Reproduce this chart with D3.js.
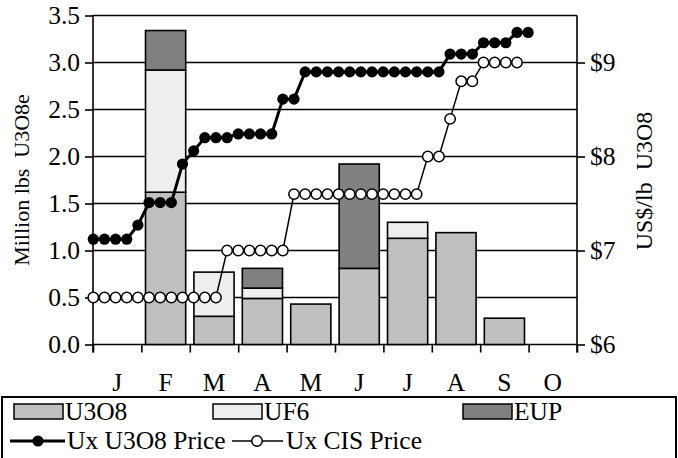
<!DOCTYPE html>
<html><head><meta charset="utf-8">
<script src="https://cdn.jsdelivr.net/npm/d3@7"></script>
<style>
body{margin:0;background:#fff}
svg{display:block}
text{font-family:"Liberation Serif","Times New Roman",serif;fill:#000}
</style>
</head><body>
<svg id="c" width="678" height="458"></svg>
<script>
// ---------- data ----------
const months = ["J","F","M","A","M","J","J","A","S","O"];
const u3o8Vol = [0, 1.62, 0.30, 0.49, 0.43, 0.81, 1.13, 1.19, 0.28, 0];
const uf6Vol  = [0, 1.30, 0.47, 0.11, 0,    0,    0.17, 0,    0,    0];
const eupVol  = [0, 0.42, 0,    0.21, 0,    1.11, 0,    0,    0,    0];
const leftTicks = [0, 0.5, 1.0, 1.5, 2.0, 2.5, 3.0, 3.5];
const rightTicks = [6, 7, 8, 9];
// weekly prices (US$/lb)
const u3o8Price = [7.12,7.12,7.12,7.12, 7.27, 7.51,7.51,7.51, 7.92, 8.06,
  8.20,8.20,8.20, 8.24,8.24,8.24,8.24, 8.61,8.61,
  8.90,8.90,8.90,8.90,8.90,8.90,8.90,8.90,8.90,8.90,8.90,8.90,8.90,
  9.09,9.09,9.09, 9.21,9.21,9.21, 9.32,9.32];
const cisPrice = [6.50,6.50,6.50,6.50,6.50,6.50,6.50,6.50,6.50,6.50,6.50,6.50,
  7.00,7.00,7.00,7.00,7.00,7.00,
  7.60,7.60,7.60,7.60,7.60,7.60,7.60,7.60,7.60,7.60,7.60,7.60,
  8.00,8.00, 8.40, 8.80,8.80, 9.00,9.00,9.00,9.00];

// ---------- layout ----------
const L = 93, R = 577, T = 15.5, B = 344.5;
const FS = 25.5, FL = 25.5, FT = 22;
const svg = d3.select("#c");

const y  = d3.scaleLinear().domain([0, 3.5]).range([B, T]);
const yR = d3.scaleLinear().domain([6, 9.5]).range([B, T]);
const xb = d3.scaleBand().domain(d3.range(months.length)).range([L, R])
  .paddingInner(0.17).paddingOuter(0.085);
const xEdge = d3.scaleLinear().domain([0, months.length]).range([L, R]);
const xw = d3.scaleLinear().domain([0, 43.4]).range([L + 0.3, R + 0.2]);

// gridlines
svg.append("g").selectAll("line").data(leftTicks).join("line")
  .attr("x1", L).attr("x2", R)
  .attr("y1", d => y(d)).attr("y2", d => y(d))
  .attr("stroke", "#000").attr("stroke-width", 1.6);

// stacked bars
const table = months.map((m, i) => ({i, U3O8: u3o8Vol[i], UF6: uf6Vol[i], EUP: eupVol[i]}));
const keys = ["U3O8", "UF6", "EUP"];
const colors = {U3O8: "#c0c0c0", UF6: "#eeeeee", EUP: "#808080"};
const stacked = d3.stack().keys(keys)(table);
svg.append("g").selectAll("g").data(stacked).join("g")
  .attr("fill", d => colors[d.key])
  .selectAll("rect").data(d => d.filter(s => s[1] - s[0] > 0)).join("rect")
  .attr("x", d => xb(d.data.i))
  .attr("width", xb.bandwidth())
  .attr("y", d => y(d[1]))
  .attr("height", d => y(d[0]) - y(d[1]))
  .attr("stroke", "#000").attr("stroke-width", 1.6);

// axes
const fmt = d3.format(".1f");
const ax = svg.append("g").attr("transform", `translate(${L},0)`)
  .call(d3.axisLeft(y).tickValues(leftTicks).tickSize(8).tickPadding(5).tickFormat(fmt));
const axR = svg.append("g").attr("transform", `translate(${R},0)`)
  .call(d3.axisRight(yR).tickValues(rightTicks).tickSize(8).tickPadding(5).tickFormat(d => "$" + d));
const axB = svg.append("g").attr("transform", `translate(0,${B})`)
  .call(d3.axisBottom(xEdge).tickValues(d3.range(months.length + 1)).tickSize(8).tickFormat(""));
[ax, axR, axB].forEach(g => {
  g.select(".domain").remove();
  g.selectAll("line").attr("stroke", "#000").attr("stroke-width", 1.6);
  g.selectAll("text").style("font-size", FS + "px").attr("fill", "#000");
});
// axis lines / frame
svg.append("line").attr("x1", L).attr("x2", L).attr("y1", T).attr("y2", B + 8).attr("stroke", "#000").attr("stroke-width", 1.6);
svg.append("line").attr("x1", R).attr("x2", R).attr("y1", T).attr("y2", B + 8).attr("stroke", "#000").attr("stroke-width", 1.6);

// month labels
svg.append("g").selectAll("text").data(months).join("text")
  .attr("x", (d, i) => xb(i) + xb.bandwidth() / 2)
  .attr("y", 391)
  .attr("text-anchor", "middle")
  .style("font-size", FS + "px")
  .text(d => d);

// price lines
const line = d3.line().x((d, i) => xw(i)).y(d => yR(d));
svg.append("path").datum(cisPrice).attr("d", line)
  .attr("fill", "none").attr("stroke", "#000").attr("stroke-width", 1.5);
svg.append("g").selectAll("circle").data(cisPrice).join("circle")
  .attr("cx", (d, i) => xw(i)).attr("cy", d => yR(d)).attr("r", 5.2)
  .attr("fill", "#fff").attr("stroke", "#000").attr("stroke-width", 1.5);
svg.append("path").datum(u3o8Price).attr("d", line)
  .attr("fill", "none").attr("stroke", "#000").attr("stroke-width", 3);
svg.append("g").selectAll("circle").data(u3o8Price).join("circle")
  .attr("cx", (d, i) => xw(i)).attr("cy", d => yR(d)).attr("r", 5.6)
  .attr("fill", "#000");

// axis titles
svg.append("text")
  .attr("transform", `translate(29,${(T + B) / 2}) rotate(-90)`)
  .attr("text-anchor", "middle").style("font-size", FT + "px")
  .attr("xml:space", "preserve")
  .text("Million lbs  U3O8e");
svg.append("text")
  .attr("transform", `translate(652,181) rotate(-90)`)
  .attr("text-anchor", "middle").style("font-size", "24px")
  .attr("xml:space", "preserve")
  .text("US$/lb  U3O8");

// legend
const lg = svg.append("g");
lg.append("rect").attr("x", 2).attr("y", 397).attr("width", 674).attr("height", 80)
  .attr("fill", "#fff").attr("stroke", "#000").attr("stroke-width", 2);
const swatches = [
  {key: "U3O8", x: 14},
  {key: "UF6", x: 213},
  {key: "EUP", x: 463}
];
swatches.forEach(s => {
  lg.append("rect").attr("x", s.x).attr("y", 404).attr("width", 49).attr("height", 15)
    .attr("fill", colors[s.key]).attr("stroke", "#000").attr("stroke-width", 1.5);
  lg.append("text").attr("x", s.x + 51).attr("y", 420).style("font-size", FL + "px").text(s.key);
});
// line legend items
lg.append("line").attr("x1", 10).attr("x2", 65).attr("y1", 441).attr("y2", 441)
  .attr("stroke", "#000").attr("stroke-width", 3);
lg.append("circle").attr("cx", 38).attr("cy", 441).attr("r", 5.6).attr("fill", "#000");
lg.append("text").attr("x", 67).attr("y", 449).style("font-size", FL + "px").text("Ux U3O8 Price");
lg.append("line").attr("x1", 232).attr("x2", 283).attr("y1", 441).attr("y2", 441)
  .attr("stroke", "#000").attr("stroke-width", 1.5);
lg.append("circle").attr("cx", 257).attr("cy", 441).attr("r", 5.2)
  .attr("fill", "#fff").attr("stroke", "#000").attr("stroke-width", 1.5);
lg.append("text").attr("x", 286).attr("y", 449).style("font-size", FL + "px").text("Ux CIS Price");
</script>
</body></html>
